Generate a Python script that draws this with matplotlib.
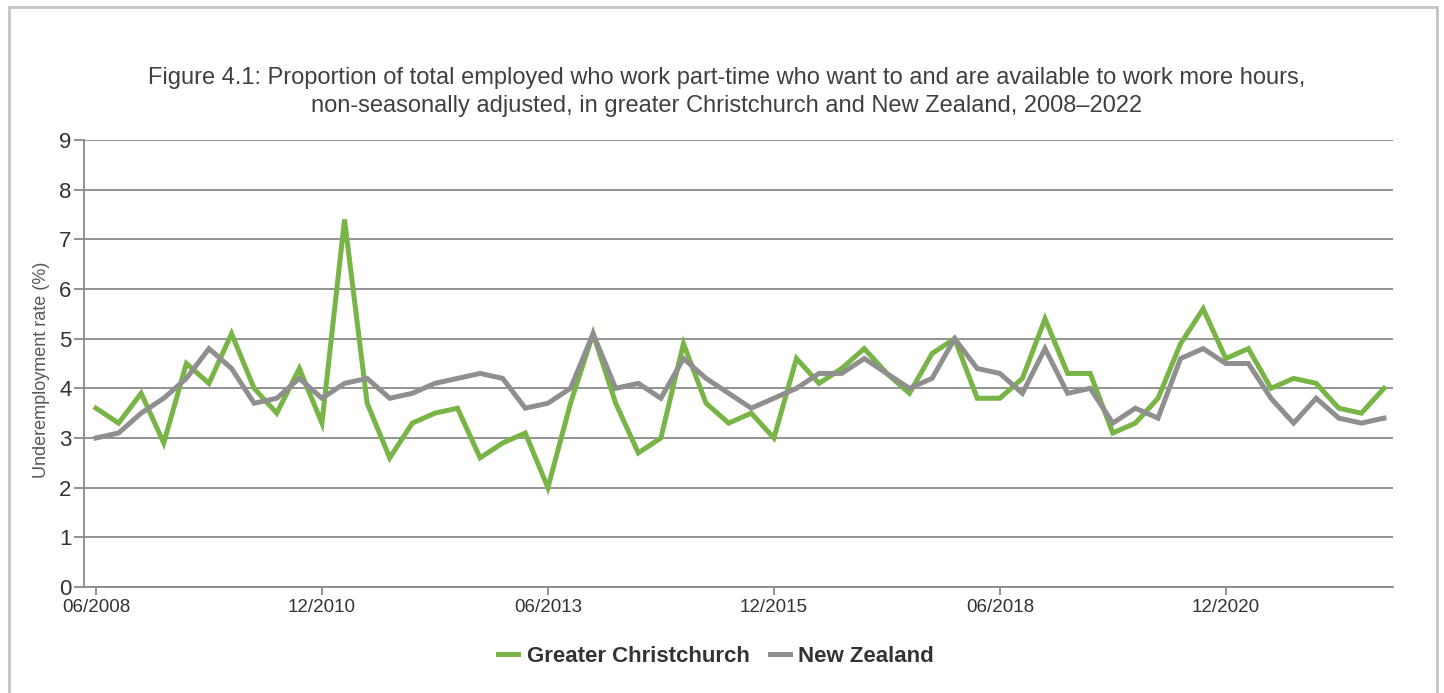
import matplotlib.pyplot as plt
import matplotlib.patches as patches
import numpy as np

plt.rcParams['font.family'] = ['Liberation Sans', 'DejaVu Sans']

# quarterly, 06/2008 .. 09/2022
tick_labels = ["06/2008", "12/2010", "06/2013", "12/2015", "06/2018", "12/2020"]
tick_idx = [0, 10, 20, 30, 40, 50]

christchurch = [3.6, 3.3, 3.9, 2.9, 4.5, 4.1, 5.1, 4.0, 3.5, 4.4,
                3.3, 7.4, 3.7, 2.6, 3.3, 3.5, 3.6, 2.6, 2.9, 3.1,
                2.0, 3.7, 5.1, 3.7, 2.7, 3.0, 4.9, 3.7, 3.3, 3.5,
                3.0, 4.6, 4.1, 4.4, 4.8, 4.3, 3.9, 4.7, 5.0, 3.8,
                3.8, 4.2, 5.4, 4.3, 4.3, 3.1, 3.3, 3.8, 4.9, 5.6,
                4.6, 4.8, 4.0, 4.2, 4.1, 3.6, 3.5, 4.0]
new_zealand = [3.0, 3.1, 3.5, 3.8, 4.2, 4.8, 4.4, 3.7, 3.8, 4.2,
               3.8, 4.1, 4.2, 3.8, 3.9, 4.1, 4.2, 4.3, 4.2, 3.6,
               3.7, 4.0, 5.1, 4.0, 4.1, 3.8, 4.6, 4.2, 3.9, 3.6,
               3.8, 4.0, 4.3, 4.3, 4.6, 4.3, 4.0, 4.2, 5.0, 4.4,
               4.3, 3.9, 4.8, 3.9, 4.0, 3.3, 3.6, 3.4, 4.6, 4.8,
               4.5, 4.5, 3.8, 3.3, 3.8, 3.4, 3.3, 3.4]

x = np.arange(len(christchurch))

fig = plt.figure(figsize=(14.44, 6.93), dpi=100)
ax = fig.add_axes([84 / 1444, 106 / 693, (1393 - 84) / 1444, (587 - 140) / 693])

# outer frame
fig.patches.append(patches.Rectangle((8.5 / 1444, -0.1), (1436.5 - 8.5) / 1444, 1.1 - 7.5 / 693,
                                     transform=fig.transFigure, fill=False,
                                     edgecolor="#c3c3c3", linewidth=2))

green = "#78b446"
grey = "#8f8f8f"
ax.plot(x, christchurch, color=green, lw=3.6, solid_joinstyle="miter", label="Greater Christchurch", zorder=3)
ax.plot(x, new_zealand, color=grey, lw=3.6, solid_joinstyle="miter", label="New Zealand", zorder=3)

ax.set_xlim(-0.53, 57.4)
ax.set_ylim(0, 9)
ax.set_yticks(range(0, 10))
ax.set_xticks(tick_idx)
ax.set_xticklabels(tick_labels)
ax.grid(axis="y", color="#8a8a8a", lw=1.3)
ax.set_axisbelow(True)

for s in ["top", "right"]:
    ax.spines[s].set_visible(False)
for s in ["left", "bottom"]:
    ax.spines[s].set_color("#8a8a8a")
    ax.spines[s].set_linewidth(1.3)

ax.tick_params(axis="y", length=7, width=1.3, color="#8a8a8a", labelsize=16, labelcolor="#333333", pad=2)
ax.tick_params(axis="x", length=6, width=1.3, color="#8a8a8a", labelsize=13.5, labelcolor="#333333", pad=3)
ax.set_ylabel("Underemployment rate (%)", fontsize=13, color="#595959")
ax.yaxis.set_label_coords(-0.026, 0.485)

fig.text(0.503, 1 - 78 / 693, "Figure 4.1: Proportion of total employed who work part-time who want to and are available to work more hours,",
         ha="center", va="center", fontsize=17, color="#404040")
fig.text(0.503, 1 - 106 / 693, "non-seasonally adjusted, in greater Christchurch and New Zealand, 2008\u20132022",
         ha="center", va="center", fontsize=17, color="#404040")

leg = fig.legend(loc="center", bbox_to_anchor=(716 / 1444, 1 - 656 / 693), ncol=2, frameon=False,
                 handlelength=0.9, handletextpad=0.4, columnspacing=0.9,
                 prop={"weight": "bold", "size": 16})
for t in leg.get_texts():
    t.set_color("#333333")

fig.savefig("out.png", dpi=100)
